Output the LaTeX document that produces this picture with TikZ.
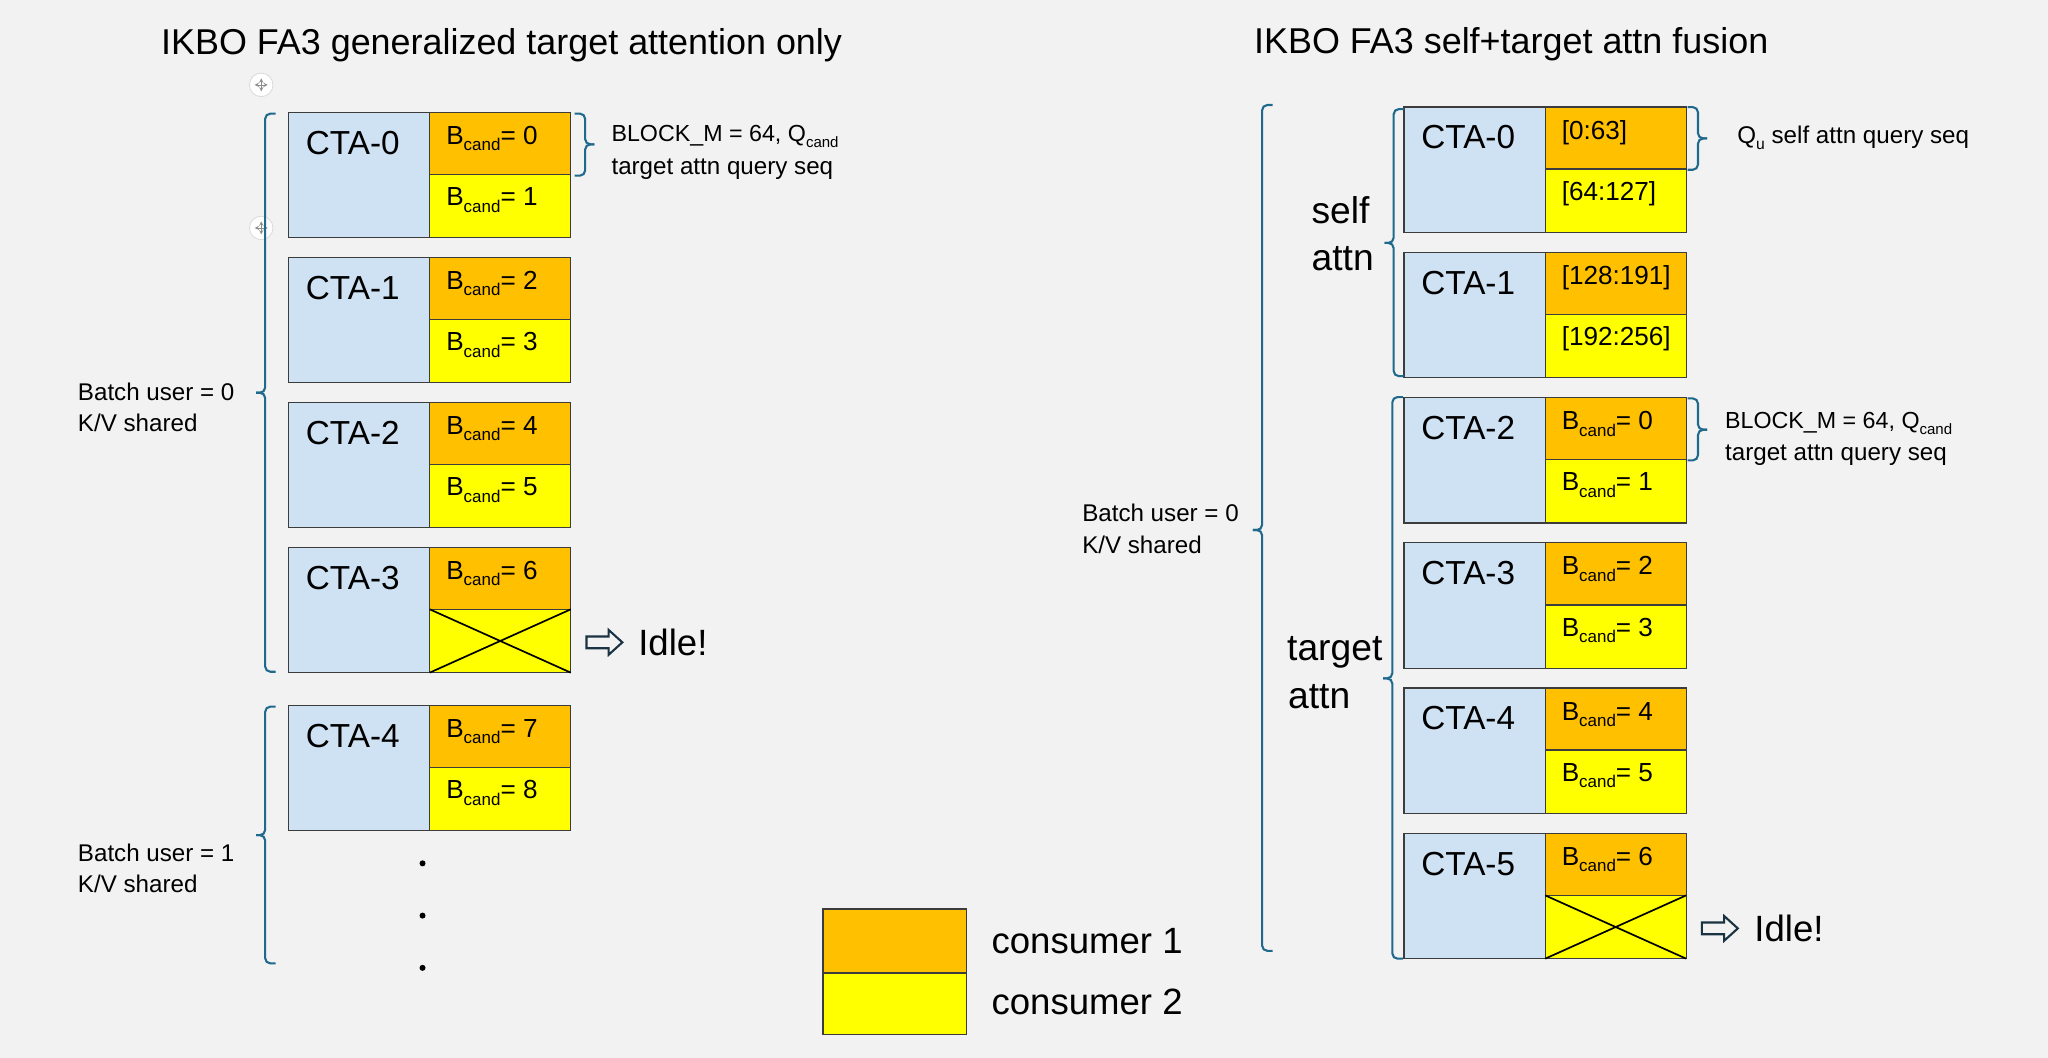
\documentclass[tikz,border=0pt]{standalone}
\usepackage{fontspec}
\setmainfont{Liberation Sans}
\definecolor{bgc}{HTML}{F2F2F2}
\definecolor{bluec}{HTML}{CFE2F3}
\definecolor{orangec}{HTML}{FFC000}
\definecolor{yellowc}{HTML}{FFFF00}
\definecolor{bracec}{HTML}{1F6A8C}
\definecolor{edgec}{HTML}{3C3C3C}
\definecolor{arrowc}{HTML}{1A3342}
\newcommand{\sbx}[2]{\raisebox{-0.25em}{\fontsize{#2}{#2}\selectfont #1}}
\newcommand{\Bc}[1]{B\sbx{cand}{13}= #1}
\newcommand{\ctablk}[6]{%
 \node[bluecell, anchor=north west] (#1b) at (#2,#3) {};
 \node[orangecell, anchor=north west] (#1o) at ({#2+108},#3) {};
 \node[yellowcell, anchor=north west] (#1y) at ({#2+108},{#3+47.5}) {};
 \node[ctatext, anchor=base west] (#1t) at ({#2+13},{#3+32}) {#4};
 \node[celltext, anchor=base west] (#1u) at ({#2+120.5},{#3+24.5}) {#5};
 \node[celltext, anchor=base west] (#1l) at ({#2+120.5},{#3+71.5}) {#6};
}
\newcommand{\brL}[4]{%
 \draw[bracepath] ({#1+8},#2) -- (#1,#2) -- (#1,#3) -- ({#1-7},#3);
 \draw[bracepath] ({#1-7},#3) -- (#1,#3) -- (#1,#4) -- ({#1+8},#4);}
\newcommand{\brR}[4]{%
 \draw[bracepath] ({#1-8},#2) -- (#1,#2) -- (#1,#3) -- ({#1+7},#3);
 \draw[bracepath] ({#1+7},#3) -- (#1,#3) -- (#1,#4) -- ({#1-8},#4);}
\newcommand{\idlearrow}[2]{%
 \draw[draw=arrowc, fill=bgc, line width=1.6pt, line join=miter]
 (#1,{#2-4.5}) -- ({#1+17},{#2-4.5}) -- ({#1+17},{#2-9.5}) -- ({#1+27.5},#2)
 -- ({#1+17},{#2+9.5}) -- ({#1+17},{#2+4.5}) -- (#1,{#2+4.5}) -- cycle;}
\begin{document}
\begin{tikzpicture}[x=1pt, y=-1pt,
 cell/.style={draw=edgec, line width=1pt, inner sep=0pt, outer sep=0pt},
 bluecell/.style={cell, fill=bluec, minimum width=108pt, minimum height=96pt},
 orangecell/.style={cell, fill=orangec, minimum width=108pt, minimum height=47.5pt},
 yellowcell/.style={cell, fill=yellowc, minimum width=108pt, minimum height=48.5pt},
 ctatext/.style={font=\fontsize{25.5}{30}\selectfont, inner sep=0pt},
 celltext/.style={font=\fontsize{20}{24}\selectfont, inner sep=0pt},
 notetext/.style={font=\fontsize{18.5}{22}\selectfont, inner sep=0pt},
 blocktext/.style={font=\fontsize{17.8}{22}\selectfont, inner sep=0pt},
 bigtext/.style={font=\fontsize{28.5}{34}\selectfont, inner sep=0pt},
 titletext/.style={font=\fontsize{27.5}{33}\selectfont, inner sep=0pt},
 legtext/.style={font=\fontsize{28}{33}\selectfont, inner sep=0pt},
 bracepath/.style={draw=bracec, line width=1.6pt, rounded corners=4pt},
 xline/.style={draw=black, line width=1.3pt},
 moveicon/.style={circle, fill=white, draw=black!15, line width=0.6pt, minimum size=18pt, inner sep=0pt}]
\fill[bgc] (0,0) rectangle (1568,810);
\useasboundingbox (0,0) rectangle (1568,810);

% titles
\node[titletext, anchor=base] (t1) at (384,42) {IKBO FA3 generalized target attention only};
\node[titletext, anchor=base] (t2) at (1157,41) {IKBO FA3 self+target attn fusion};

% move icons
\node[moveicon] (mv1) at (200,65) {};
\node[moveicon] (mv2) at (200,174.5) {};
\foreach \m in {mv1,mv2}{
 \draw[black!45, line width=0.5pt, -stealth] (\m.center) -- ++(5pt,0);
 \draw[black!45, line width=0.5pt, -stealth] (\m.center) -- ++(-5pt,0);
 \draw[black!45, line width=0.5pt, -stealth] (\m.center) -- ++(0,5pt);
 \draw[black!45, line width=0.5pt, -stealth] (\m.center) -- ++(0,-5pt);}

% left panel blocks
\ctablk{L0}{221}{86}{CTA-0}{\Bc{0}}{\Bc{1}}
\ctablk{L1}{221}{197}{CTA-1}{\Bc{2}}{\Bc{3}}
\ctablk{L2}{221}{308}{CTA-2}{\Bc{4}}{\Bc{5}}
\ctablk{L3}{221}{419}{CTA-3}{\Bc{6}}{}
\ctablk{L4}{221}{540}{CTA-4}{\Bc{7}}{\Bc{8}}
\draw[xline] (L3y.north west) -- (L3y.south east) (L3y.south west) -- (L3y.north east);

% left braces and labels
\brL{203}{87}{300.7}{514.3}
\brL{203}{541}{639.4}{737.6}
\brR{448}{87}{110.5}{134.5}
\node[notetext, anchor=base west] (bl0a) at (59.5,306.5) {Batch user = 0};
\node[notetext, anchor=base west] (bl0b) at (59.5,330.5) {K/V shared};
\node[notetext, anchor=base west] (bl1a) at (59.5,659.5) {Batch user = 1};
\node[notetext, anchor=base west] (bl1b) at (59.5,683.5) {K/V shared};
\node[blocktext, anchor=base west] (nL1) at (468,108.5) {BLOCK\_M = 64, Q\sbx{cand}{11.5}};
\node[notetext, anchor=base west] (nL2) at (468,133.6) {target attn query seq};

% idle left
\idlearrow{449}{491.8}
\node[legtext, anchor=base west] (idL) at (488.5,502) {Idle!};

% dots
\fill (323.5,661) circle[radius=2.3pt];
\fill (323.5,701) circle[radius=2.3pt];
\fill (323.5,741) circle[radius=2.3pt];

% right panel blocks
\ctablk{R0}{1075}{82}{CTA-0}{[0:63]}{[64:127]}
\ctablk{R1}{1075}{193.2}{CTA-1}{[128:191]}{[192:256]}
\ctablk{R2}{1075}{304.4}{CTA-2}{\Bc{0}}{\Bc{1}}
\ctablk{R3}{1075}{415.6}{CTA-3}{\Bc{2}}{\Bc{3}}
\ctablk{R4}{1075}{526.8}{CTA-4}{\Bc{4}}{\Bc{5}}
\ctablk{R5}{1075}{638}{CTA-5}{\Bc{6}}{}
\draw[xline] (R5y.north west) -- (R5y.south east) (R5y.south west) -- (R5y.north east);

% right braces and labels
\brL{966.3}{80.4}{405.8}{728}
\brL{1067}{83.5}{186}{288}
\brL{1066}{304}{519.4}{734}
\brR{1300}{82}{106}{130}
\brR{1300}{305}{329}{352.5}
\node[notetext, anchor=base west] (br0a) at (828.4,399.5) {Batch user = 0};
\node[notetext, anchor=base west] (br0b) at (828.4,423.8) {K/V shared};
\node[bigtext, anchor=base west] (sa1) at (1004,171.5) {self};
\node[bigtext, anchor=base west] (sa2) at (1004,207.3) {attn};
\node[bigtext, anchor=base west] (ta1) at (985.3,505.4) {target};
\node[bigtext, anchor=base west] (ta2) at (986,542.4) {attn};
\node[notetext, anchor=base west] (nR0) at (1330,109.8) {Q\sbx{u}{12} self attn query seq};
\node[blocktext, anchor=base west] (nR1) at (1320.6,328) {BLOCK\_M = 64, Q\sbx{cand}{11.5}};
\node[notetext, anchor=base west] (nR2) at (1320.6,352.2) {target attn query seq};

% idle right
\idlearrow{1303}{710.8}
\node[legtext, anchor=base west] (idR) at (1343,721) {Idle!};

% legend
\node[cell, fill=orangec, minimum width=110pt, minimum height=49pt, anchor=north west] (lg1) at (630,696) {};
\node[cell, fill=yellowc, minimum width=110pt, minimum height=47pt, anchor=north west] (lg2) at (630,745) {};
\node[legtext, anchor=base west] (lg1t) at (759,730) {consumer 1};
\node[legtext, anchor=base west] (lg2t) at (759,777) {consumer 2};
\end{tikzpicture}
\end{document}
